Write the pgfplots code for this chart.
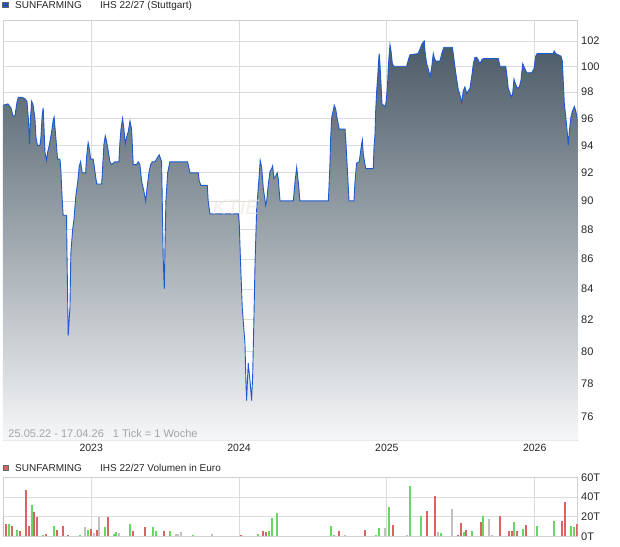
\documentclass[border=0pt]{standalone}
\usepackage{pgfplots}
\pgfplotsset{compat=1.18}
\usepackage{pgfplotstable}
\usepackage{fontspec}
\setmainfont{Liberation Sans}
\definecolor{gridc}{RGB}{220,220,220}
\definecolor{framec}{RGB}{208,208,208}
\definecolor{lineblue}{RGB}{30,90,205}
\definecolor{filltop}{RGB}{74,90,102}
\definecolor{fillbot}{RGB}{246,247,248}
\definecolor{volred}{RGB}{218,100,100}
\definecolor{volgreen}{RGB}{100,215,100}
\definecolor{volgray}{RGB}{192,192,192}
\definecolor{legblue}{RGB}{30,80,190}
\definecolor{txtgray}{RGB}{165,165,165}

\pgfplotstableread{
x y
2022.403 97.0
2022.436 97.1
2022.457 96.8
2022.470 96.2
2022.484 96.2
2022.497 97.2
2022.507 97.6
2022.531 97.6
2022.551 97.5
2022.565 97.3
2022.575 95.9
2022.582 94.1
2022.588 95.9
2022.597 97.3
2022.607 97.0
2022.619 96.0
2022.626 94.6
2022.636 94.0
2022.653 94.0
2022.659 94.5
2022.668 96.2
2022.675 96.8
2022.687 93.5
2022.698 92.9
2022.705 93.5
2022.716 94.0
2022.732 95.0
2022.743 95.9
2022.749 96.1
2022.761 94.5
2022.772 93.0
2022.788 93.0
2022.795 92.1
2022.802 90.4
2022.810 89.0
2022.833 89.0
2022.835 87.0
2022.844 81.0
2022.856 82.8
2022.862 86.4
2022.874 88.0
2022.883 88.7
2022.896 90.4
2022.908 91.3
2022.919 92.5
2022.928 92.8
2022.939 92.0
2022.962 92.0
2022.969 93.2
2022.979 94.2
2022.986 93.8
2022.996 93.0
2023.013 93.0
2023.025 92.1
2023.037 91.2
2023.070 91.2
2023.074 91.8
2023.086 94.1
2023.095 94.7
2023.104 94.3
2023.115 93.6
2023.126 92.8
2023.138 92.6
2023.160 92.8
2023.187 92.8
2023.194 94.2
2023.201 95.2
2023.212 96.0
2023.221 95.2
2023.230 94.1
2023.239 94.6
2023.250 95.0
2023.262 95.8
2023.273 95.2
2023.284 92.6
2023.307 92.6
2023.318 92.8
2023.329 92.6
2023.341 91.4
2023.356 90.7
2023.368 90.0
2023.381 91.2
2023.390 92.0
2023.402 92.6
2023.413 92.8
2023.431 92.8
2023.442 93.0
2023.453 93.2
2023.460 93.3
2023.470 93.0
2023.476 92.8
2023.487 86.0
2023.494 84.0
2023.499 86.9
2023.505 90.0
2023.517 92.0
2023.532 92.8
2023.652 92.8
2023.656 92.6
2023.668 92.0
2023.724 92.0
2023.731 91.4
2023.742 91.1
2023.785 91.1
2023.791 90.0
2023.803 89.1
2023.995 89.1
2024.001 88.5
2024.011 85.5
2024.022 82.7
2024.040 80.5
2024.046 78.2
2024.051 77.0
2024.062 79.3
2024.074 78.2
2024.085 77.0
2024.092 78.5
2024.101 82.3
2024.108 85.7
2024.119 89.4
2024.137 91.9
2024.143 92.9
2024.153 92.4
2024.164 90.9
2024.180 89.7
2024.187 90.0
2024.198 91.2
2024.209 92.1
2024.221 92.3
2024.227 92.5
2024.236 91.6
2024.249 91.8
2024.258 92.0
2024.265 91.6
2024.277 90.0
2024.367 90.0
2024.378 91.3
2024.390 92.4
2024.401 91.3
2024.412 90.0
2024.604 90.0
2024.608 90.9
2024.615 92.7
2024.620 94.6
2024.627 96.1
2024.637 96.6
2024.644 97.0
2024.654 96.7
2024.662 96.1
2024.671 95.6
2024.678 95.2
2024.717 95.2
2024.723 94.2
2024.732 92.4
2024.744 90.0
2024.777 90.0
2024.784 91.3
2024.791 92.2
2024.795 92.7
2024.813 92.8
2024.823 93.6
2024.829 94.1
2024.834 94.4
2024.840 93.4
2024.852 92.6
2024.858 92.3
2024.908 92.3
2024.913 93.9
2024.919 94.7
2024.924 96.5
2024.931 98.1
2024.938 99.2
2024.944 100.4
2024.948 101.0
2024.953 100.2
2024.960 98.7
2024.967 97.1
2024.987 96.9
2024.994 97.2
2024.999 97.8
2025.005 98.7
2025.009 99.8
2025.016 101.0
2025.021 101.7
2025.028 101.2
2025.037 100.2
2025.048 100.0
2025.134 100.0
2025.145 100.5
2025.156 100.9
2025.212 101.0
2025.219 101.2
2025.235 101.7
2025.246 101.9
2025.253 102.0
2025.258 101.2
2025.269 100.2
2025.280 99.8
2025.292 99.2
2025.303 99.9
2025.314 101.0
2025.320 100.7
2025.330 100.4
2025.359 100.4
2025.371 101.0
2025.386 101.5
2025.443 101.5
2025.449 101.0
2025.461 99.9
2025.472 99.0
2025.483 98.2
2025.494 97.8
2025.506 97.2
2025.517 98.1
2025.528 98.4
2025.540 97.9
2025.551 98.1
2025.562 98.3
2025.574 99.2
2025.585 100.2
2025.596 100.7
2025.608 100.7
2025.618 100.5
2025.630 100.2
2025.641 100.5
2025.652 100.6
2025.754 100.6
2025.765 100.0
2025.804 100.0
2025.811 99.4
2025.821 98.3
2025.833 97.9
2025.844 97.6
2025.851 97.9
2025.860 99.0
2025.871 98.6
2025.882 98.3
2025.896 98.4
2025.907 98.9
2025.919 100.2
2025.934 99.8
2025.946 99.5
2025.980 99.5
2025.995 99.8
2026.007 100.8
2026.017 101.0
2026.126 101.0
2026.132 101.2
2026.142 101.0
2026.160 100.9
2026.178 100.8
2026.187 100.4
2026.193 98.9
2026.200 97.2
2026.210 96.1
2026.220 95.0
2026.227 94.0
2026.234 95.0
2026.245 96.1
2026.254 96.5
2026.268 96.9
2026.277 96.6
2026.288 96.0
}\price

\pgfplotstableread{
x v
2022.421 12.5
2022.461 10.5
2022.518 5.4
2022.556 47
2022.576 10.5
2022.612 24.7
2022.630 19.7
2022.691 2.4
2022.766 6.4
2022.806 10.5
2022.840 1.4
2022.996 7.5
2023.037 6.4
2023.113 19.7
2023.282 5.4
2023.363 9.5
2023.492 5.4
2024.011 1.4
2024.162 5.4
2024.182 4.4
2024.676 5.4
2024.852 6.4
2025.041 11.5
2025.271 25.8
2025.325 41
2025.481 1.4
2025.501 13.6
2025.535 6.4
2025.636 14.6
2025.765 20.7
2025.826 5.4
2025.846 5.4
2025.880 5.4
2025.941 11.5
2026.185 15.6
2026.205 34.9
2026.286 12.5
}\volred

\pgfplotstableread{
x v
2022.441 12.5
2022.499 6.4
2022.597 31.9
2022.671 1.4
2022.747 10.5
2022.923 1.0
2022.975 6.4
2023.093 9.5
2023.154 2.4
2023.167 4.4
2023.262 12.5
2023.417 9.5
2023.438 5.4
2023.532 5.4
2023.686 1.4
2024.128 2.4
2024.200 5.4
2024.222 18.6
2024.254 23.7
2024.622 10.5
2024.640 1.4
2024.926 1.4
2024.946 8.5
2025.012 29.8
2025.156 51.2
2025.231 20.7
2025.366 3.4
2025.521 4.4
2025.576 5.4
2025.650 20.7
2025.860 14.6
2025.921 7.5
2026.015 10.5
2026.130 15.6
2026.245 10.5
2026.266 9.5
}\volgreen

\pgfplotstableread{
x v
2022.405 20
2022.957 9.5
2023.016 3.7
2023.052 19.7
2023.187 3.4
2023.573 2.4
2023.586 2.4
2023.607 4.4
2023.816 2.4
2024.717 1.4
2024.987 8.5
2025.134 1.4
2025.346 4.4
2025.440 27.8
2025.691 17.6
2025.711 1.4
}\volgray

\begin{document}
\begin{tikzpicture}
\path[use as bounding box] (0pt,0pt) rectangle (620pt,546pt);

% main price chart (logarithmic price scale: y plotted as ln of the price)
\begin{axis}[
  at={(3pt,105.5pt)}, anchor=south west,
  scale only axis, width=574.7pt, height=420pt,
  xmin=2022.403, xmax=2026.291,
  ymin=4.3123, ymax=4.6410,
  xtick={2023,2024,2025,2026},
  xticklabels={2023,2024,2025,2026},
  ytick={4.33073,4.35671,4.38203,4.40672,4.43082,4.45435,4.47734,4.49981,4.52179,4.54329,4.56435,4.58497,4.60517,4.62497},
  yticklabels={76,78,80,82,84,86,88,90,92,94,96,98,100,102},
  yticklabel pos=right,
  grid=major,
  major grid style={draw=gridc, line width=0.8pt},
  axis line style={draw=framec, line width=0.8pt},
  major tick length=0pt,
  xticklabel style={font=\fontsize{10.5}{12}\selectfont, text=black!85},
  yticklabel style={font=\fontsize{11}{13}\selectfont, text=black!85, anchor=west},
]
\addplot[draw=none, top color=filltop, bottom color=fillbot] table[x=x, y expr={ln(\thisrow{y})}] {\price} \closedcycle;
\addplot[lineblue, line width=0.9pt, sharp plot, mark=none] table[x=x, y expr={ln(\thisrow{y})}] {\price};
\end{axis}

% volume chart
\begin{axis}[
  at={(3pt,9.7pt)}, anchor=south west,
  scale only axis, width=574.7pt, height=59pt,
  xmin=2022.403, xmax=2026.291,
  ymin=0, ymax=60,
  xtick={2023,2024,2025,2026},
  xticklabels={},
  ytick={0,20,40,60},
  yticklabels={0T,20T,40T,60T},
  yticklabel pos=right,
  grid=major,
  major grid style={draw=gridc, line width=0.8pt},
  axis line style={draw=framec, line width=0.8pt},
  major tick length=0pt,
  yticklabel style={font=\fontsize{11}{13}\selectfont, text=black!85, anchor=west},
]
\addplot[ycomb, volred, line width=2.1pt, mark=none] table[x=x,y=v] {\volred};
\addplot[ycomb, volgreen, line width=2.1pt, mark=none] table[x=x,y=v] {\volgreen};
\addplot[ycomb, volgray, line width=2.1pt, mark=none] table[x=x,y=v] {\volgray};
\end{axis}

% watermark fragment
\node[text={rgb,255:red,238;green,230;blue,220}, opacity=0.65, font=\fontsize{21}{24}\selectfont\itshape] at (236pt,339pt) {KTIE};

% legends and texts
\fill[legblue] (2.2pt,538.3pt) rectangle (7.7pt,543.8pt);
\draw[black!60, line width=0.4pt] (2.2pt,538.3pt) rectangle (7.7pt,543.8pt);
\node[anchor=base west, inner sep=0, font=\fontsize{10}{12}\selectfont, text=black!85] at (15pt,537.6pt) {SUNFARMING};
\node[anchor=base west, inner sep=0, font=\fontsize{10}{12}\selectfont, text=black!85] at (100pt,537.6pt) {IHS 22/27 (Stuttgart)};

\fill[volred] (2.7pt,75.4pt) rectangle (8.2pt,80.9pt);
\draw[black!60, line width=0.4pt] (2.7pt,75.4pt) rectangle (8.2pt,80.9pt);
\node[anchor=base west, inner sep=0, font=\fontsize{10}{12}\selectfont, text=black!85] at (15pt,74.4pt) {SUNFARMING};
\node[anchor=base west, inner sep=0, font=\fontsize{10}{12}\selectfont, text=black!85] at (100pt,74.4pt) {IHS 22/27 Volumen in Euro};

\node[anchor=base west, inner sep=0, font=\fontsize{11}{13}\selectfont, text=txtgray] at (8.3pt,108.2pt) {25.05.22 - 17.04.26\hspace{9pt}1 Tick = 1 Woche};
\end{tikzpicture}
\end{document}
